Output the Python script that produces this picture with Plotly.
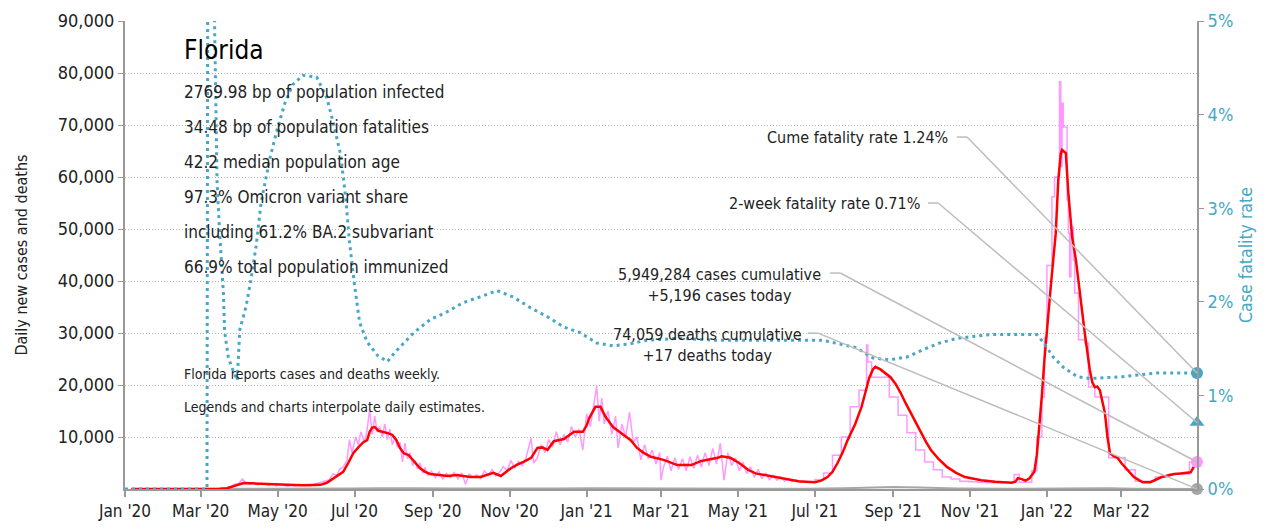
import pandas as pd
import plotly.graph_objects as go

START = pd.Timestamp("2020-01-01")
END_DAY = 850  # 2022-04-30

# ---- Case fatality rate (%), day offsets from 2020-01-01 ----
cfr_days = [0, 30, 65, 66, 70, 71, 73, 75, 78, 79, 82, 85, 89, 91, 96, 100, 104, 108, 115, 121, 127, 133,
            141, 152, 160, 165, 171, 175, 178, 182, 186, 192, 200, 208, 214, 229, 242, 255, 268, 281, 295,
            308, 321, 335, 348, 361, 374, 387, 400, 414, 440, 466, 493, 519, 553, 580, 593, 606, 620, 633,
            646, 660, 686, 712, 723, 728, 736, 744, 755, 765, 779, 791, 818, 844, 850]
cfr_vals = [0, 0, 0, 9.0, 9.0, 5.0, 3.28, 2.75, 2.10, 1.68, 1.40, 1.29, 1.16, 1.70, 1.95, 2.25, 2.60, 3.07,
            3.54, 3.86, 4.13, 4.32, 4.42, 4.40, 4.18, 3.92, 3.57, 3.11, 2.64, 2.18, 1.78, 1.57, 1.43, 1.36,
            1.46, 1.67, 1.81, 1.89, 1.99, 2.05, 2.12, 2.05, 1.94, 1.84, 1.73, 1.67, 1.56, 1.53, 1.55, 1.59,
            1.61, 1.59, 1.59, 1.59, 1.59, 1.51, 1.40, 1.38, 1.41, 1.49, 1.56, 1.61, 1.65, 1.65, 1.65, 1.57,
            1.41, 1.30, 1.20, 1.18, 1.19, 1.20, 1.24, 1.24, 1.24]

# ---- 7-day average new cases ----
avg_days = [5, 60, 75, 81, 86, 90, 94, 100, 110, 120, 130, 140, 150, 155, 160, 163, 168, 173, 177, 181, 185,
            189, 192, 194, 196, 198, 201, 205, 209, 212, 215, 218, 221, 225, 229, 234, 238, 242, 249, 256,
            263, 268, 274, 282, 288, 292, 298, 302, 306, 311, 316, 322, 327, 331, 335, 340, 348, 356, 363,
            366, 368, 373, 377, 381, 387, 393, 401, 406, 411, 417, 427, 438, 445, 449, 457, 465, 470, 473,
            480, 487, 494, 500, 507, 514, 520, 527, 534, 540, 547, 552, 557, 561, 565, 569, 573, 579, 584,
            587, 590, 593, 595, 599, 603, 607, 611, 615, 619, 623, 627, 631, 635, 639, 645, 652, 659, 666,
            672, 679, 690, 703, 706, 708, 711, 714, 717, 721, 723, 725, 727, 729, 731, 734, 736, 738, 740,
            742, 743, 745, 746, 748, 751, 754, 757, 761, 765, 767, 769, 771, 773, 775, 777, 779, 781, 784,
            787, 790, 793, 797, 800, 804, 807, 813, 818, 822, 827, 832, 837, 841, 845, 848, 850]
avg_vals = [0, 0, 30, 150, 500, 900, 1150, 1100, 1000, 900, 750, 700, 750, 800, 1200, 1700, 2500, 3300,
            5000, 6900, 8000, 9000, 9400, 11000, 11800, 11900, 11200, 11000, 10700, 10400, 9500, 7900, 6900,
            6500, 5300, 4000, 3300, 2900, 2700, 2500, 2700, 2500, 2300, 2300, 2700, 3100, 2500, 3300, 4000,
            4700, 5200, 6000, 7900, 8000, 7500, 9200, 9600, 11000, 11000, 12200, 13600, 15800, 15800, 13900,
            11900, 10800, 9400, 7900, 7000, 6200, 5600, 4600, 4600, 4600, 5400, 5800, 6000, 6300, 6000, 5000,
            3700, 3000, 2700, 2400, 2100, 1800, 1500, 1400, 1300, 1600, 2300, 3300, 5000, 7000, 9400, 12500,
            15800, 18500, 21300, 23000, 23500, 23000, 22200, 21500, 20200, 18500, 16500, 14600, 12600, 10800,
            9100, 7500, 5800, 4200, 3100, 2300, 2000, 1700, 1400, 1200, 1400, 2100, 1900, 1600, 2000, 3300,
            6500, 11900, 18000, 24800, 31000, 38800, 44000, 49200, 59400, 64500, 65200, 64800, 64600, 56900,
            48500, 44000, 37700, 30000, 22900, 20500, 19600, 19700, 19000, 17000, 14600, 10000, 6900, 6300,
            6000, 5000, 4200, 3200, 2300, 1700, 1300, 1300, 1800, 2300, 2600, 2900, 3000, 3100, 3200, 4500,
            5196]

# ---- Reported daily new cases (daily period) ----
raw_days = [60, 75, 80, 84, 87, 90, 93, 96, 99, 102, 105, 108, 111, 114, 117, 120, 123, 126, 129, 132, 135,
            138, 141, 144, 147, 150, 153, 156, 159, 162, 165, 168, 170, 173, 176, 178, 180, 183, 185, 187,
            190, 192, 194, 196, 198, 200, 202, 204, 206, 208, 210, 212, 214, 216, 218, 220, 222, 224, 226,
            228, 230, 232, 234, 236, 238, 240, 243, 246, 249, 252, 255, 258, 261, 264, 267, 270, 273, 276,
            279, 282, 285, 288, 291, 294, 297, 300, 303, 306, 309, 312, 315, 318, 322, 324, 327, 330, 333,
            336, 339, 342, 345, 348, 351, 354, 357, 360, 363, 366, 369, 372, 374, 376, 378, 380, 383, 386,
            389, 391, 394, 397, 400, 403, 406, 409, 412, 415, 418, 421, 424, 425, 427, 430, 433, 436, 439,
            442, 445, 448, 451, 454, 457, 460, 463, 466, 469, 472, 475, 478, 481, 484, 487, 490, 493, 496,
            499, 502, 505, 508, 511, 514, 517, 520, 523, 526, 529, 532, 535, 540]
raw_vals = [0, 0, 200, 500, 900, 1000, 1900, 1200, 900, 1200, 800, 1100, 900, 700, 1000, 600, 900, 700, 500,
            800, 600, 900, 700, 800, 600, 900, 1100, 1300, 1600, 1800, 2900, 2600, 3800, 4200, 5500, 9500,
            7000, 10000, 8500, 11000, 9000, 11500, 15300, 10500, 14000, 11000, 12000, 10000, 12500, 9500,
            11500, 8500, 10000, 8000, 9000, 5200, 8800, 5800, 7000, 4500, 5500, 3800, 5000, 3000, 4200, 2600,
            3400, 2200, 3300, 1900, 3000, 2200, 3200, 1900, 3100, 900, 2900, 2300, 2700, 2000, 3500, 2600,
            3700, 2500, 3200, 4300, 3500, 5500, 4000, 5300, 4500, 6000, 9800, 5000, 6000, 8500, 7000, 9500,
            8000, 11000, 8500, 10500, 9000, 12000, 10000, 11500, 7500, 14500, 12000, 16500, 19800, 13000,
            17500, 12500, 15000, 10500, 14000, 7900, 12500, 10000, 14800, 9000, 10000, 5600, 8500, 5800,
            7500, 4800, 7000, 1700, 4200, 6300, 3500, 6000, 3800, 5800, 3500, 6200, 4000, 6500, 4200, 7000,
            4500, 7800, 4800, 8800, 1700, 7000, 4500, 6000, 3500, 5200, 3000, 4300, 2200, 3800, 2000, 3000,
            1800, 2600, 1700, 2300, 1500, 2000, 1400, 1700, 1300, 1400]

# ---- Reported new cases (weekly / irregular period, held as steps) ----
step_days = [540, 547, 554, 561, 568, 575, 582, 588, 589, 592, 599, 606, 613, 620, 627, 634, 641, 648, 655,
             662, 669, 676, 683, 690, 697, 705, 709, 719, 723, 727, 729, 731, 735, 737, 741, 742, 743, 744,
             747, 748, 749, 750, 752, 753, 756, 761, 764, 769, 774, 780, 788, 793, 801, 814, 817, 828, 844,
             850]
step_vals = [1400, 1800, 3100, 6500, 10000, 15800, 19000, 27700, 24400, 21500, 21500, 17700, 14200, 10800,
             7500, 5200, 3700, 2300, 1900, 1500, 1400, 1300, 1200, 1200, 1300, 2800, 1300, 3500, 10000,
             17700, 29200, 43000, 56200, 60000, 78300, 62000, 74200, 69600, 55600, 49200, 40800, 50400,
             44000, 37700, 28700, 28100, 19600, 17700, 17700, 6000, 6000, 3700, 1500, 1500, 2300, 2900,
             5196, 5196]

# ---- Daily deaths ----
death_days = [5, 60, 80, 95, 110, 130, 160, 180, 200, 215, 230, 260, 300, 340, 370, 400, 440, 500, 540, 570,
              595, 610, 630, 660, 700, 740, 760, 780, 800, 850]
death_vals = [0, 0, 10, 50, 50, 40, 40, 80, 150, 180, 140, 100, 60, 100, 150, 130, 70, 50, 30, 150, 350,
              380, 300, 100, 40, 100, 200, 150, 60, 17]

# ---- headline numbers ----
cume_cfr = 1.24
two_week_cfr = 0.71
cases_today = 5196
deaths_today = 17
info_lines = ["2769.98 bp of population infected", "34.48 bp of population fatalities",
              "42.2 median population age", "97.3% Omicron variant share",
              "including 61.2% BA.2 subvariant", "66.9% total population immunized"]
notes = ["Florida reports cases and deaths weekly.", "Legends and charts interpolate daily estimates."]


def dates(days):
    return START + pd.to_timedelta(days, unit="D")


TEAL = "#47a7c5"
PINK = "#ff99ff"
RED = "#ff0000"
GREY = "#a6a6a6"
TXT = "#222222"
FONT = "DejaVu Sans Condensed, Liberation Sans Narrow, Arial Narrow, sans-serif"
Y_MAX = 90000
Y2_MAX = 5

fig = go.Figure()
fig.add_trace(go.Scatter(x=dates(death_days), y=death_vals, mode="lines",
                         line=dict(color=GREY, width=2), hoverinfo="skip"))
fig.add_trace(go.Scatter(x=dates(raw_days), y=raw_vals, mode="lines",
                         line=dict(color=PINK, width=1.5), hoverinfo="skip"))
fig.add_trace(go.Scatter(x=dates(step_days), y=step_vals, mode="lines",
                         line=dict(color=PINK, width=1.5, shape="hv"), hoverinfo="skip"))
fig.add_trace(go.Scatter(x=dates(avg_days), y=avg_vals, mode="lines",
                         line=dict(color=RED, width=2.5), hoverinfo="skip"))
fig.add_trace(go.Scatter(x=dates(cfr_days), y=cfr_vals, mode="lines", yaxis="y2",
                         line=dict(color=TEAL, width=3, dash="3px,4px"), hoverinfo="skip"))

last = dates([END_DAY])
fig.add_trace(go.Scatter(x=last, y=[deaths_today], mode="markers", cliponaxis=False,
                         marker=dict(color=GREY, size=12)))
fig.add_trace(go.Scatter(x=last, y=[cases_today], mode="markers", cliponaxis=False,
                         marker=dict(color=PINK, size=12)))
fig.add_trace(go.Scatter(x=last, y=[two_week_cfr], mode="markers", yaxis="y2", cliponaxis=False,
                         marker=dict(color=TEAL, size=13, symbol="triangle-up")))
fig.add_trace(go.Scatter(x=last, y=[cume_cfr], mode="markers", yaxis="y2", cliponaxis=False,
                         marker=dict(color=TEAL, size=12)))

annotations = []
annotations.append(dict(text="Florida", x=0.053, y=0.938, xref="paper", yref="paper", xanchor="left",
                        yanchor="middle", showarrow=False, font=dict(size=26, color="#000")))
for i, t in enumerate(info_lines):
    annotations.append(dict(text=t, x=0.053, y=0.848 - i * 0.0748, xref="paper", yref="paper",
                            xanchor="left", yanchor="middle", showarrow=False,
                            font=dict(size=17, color=TXT)))
for i, t in enumerate(notes):
    annotations.append(dict(text=t, x=0.053, y=0.246 - i * 0.071, xref="paper", yref="paper",
                            xanchor="left", yanchor="middle", showarrow=False,
                            font=dict(size=14, color=TXT)))

labels = [
    (f"Cume fatality rate {cume_cfr:.2f}%", 0.7696, 0.752, "right", cume_cfr / Y2_MAX, 0.776),
    (f"2-week fatality rate {two_week_cfr:.2f}%", 0.7435, 0.611, "right", two_week_cfr / Y2_MAX, 0.749),
    (f"5,949,284 cases cumulative<br>+{cases_today:,} cases today", 0.555, 0.4615, "center",
     cases_today / Y_MAX, 0.6577),
    (f"74,059 deaths cumulative<br>+{deaths_today} deaths today", 0.543, 0.333, "center",
     deaths_today / Y_MAX, 0.637),
]
shapes = []
for text, lx, ly, anchor, target, start in labels:
    annotations.append(dict(text=text, x=lx, y=ly if anchor == "right" else ly - 0.0255,
                            xref="paper", yref="paper", xanchor=anchor, yanchor="middle",
                            align="center", showarrow=False, font=dict(size=16, color=TXT)))
    kink = start + 0.0095
    shapes.append(dict(type="line", xref="paper", yref="paper", x0=start, y0=ly, x1=kink, y1=ly,
                       line=dict(color="#bdbdbd", width=1.5)))
    shapes.append(dict(type="line", xref="paper", yref="paper", x0=kink, y0=ly, x1=1.0, y1=target,
                       line=dict(color="#bdbdbd", width=1.5)))

# page body has an 8px default margin, so the figure is sized to fit inside the window
fig.update_layout(
    width=1260, height=521, showlegend=False,
    paper_bgcolor="white", plot_bgcolor="white",
    margin=dict(l=117, r=71, t=13, b=40, autoexpand=False),
    font=dict(family=FONT, color=TXT),
    annotations=annotations, shapes=shapes,
    xaxis=dict(type="date", range=[START, last[0]], tickformat="%b '%y", dtick="M2",
               tick0="2020-01-01", ticks="outside", ticklen=6, tickcolor="#999", tickwidth=1.5,
               showline=True, linecolor="#999", linewidth=2, showgrid=False, zeroline=False,
               automargin=False, tickfont=dict(size=17, color=TXT)),
    yaxis=dict(range=[0, Y_MAX], tickvals=list(range(10000, 90001, 10000)), tickformat=",",
               showgrid=True, gridcolor="#b5b5b5", griddash="1px,2px", gridwidth=1,
               showline=True, linecolor="#999", linewidth=2, ticks="outside", ticklen=5,
               tickcolor="#999", zeroline=False, automargin=False, tickfont=dict(size=18, color=TXT),
               title=dict(text="Daily new cases and deaths", standoff=26,
                          font=dict(size=16, color=TXT))),
    yaxis2=dict(range=[0, Y2_MAX], overlaying="y", side="right", dtick=1, ticksuffix="%",
                showgrid=False, showline=True, linecolor="#999", linewidth=2, ticks="outside",
                ticklen=5, tickcolor="#999", zeroline=False, automargin=False,
                tickfont=dict(size=18, color=TEAL),
                title=dict(text="Case fatality rate", standoff=7, font=dict(size=17.5, color=TEAL))),
)

fig.write_html("out.html")
